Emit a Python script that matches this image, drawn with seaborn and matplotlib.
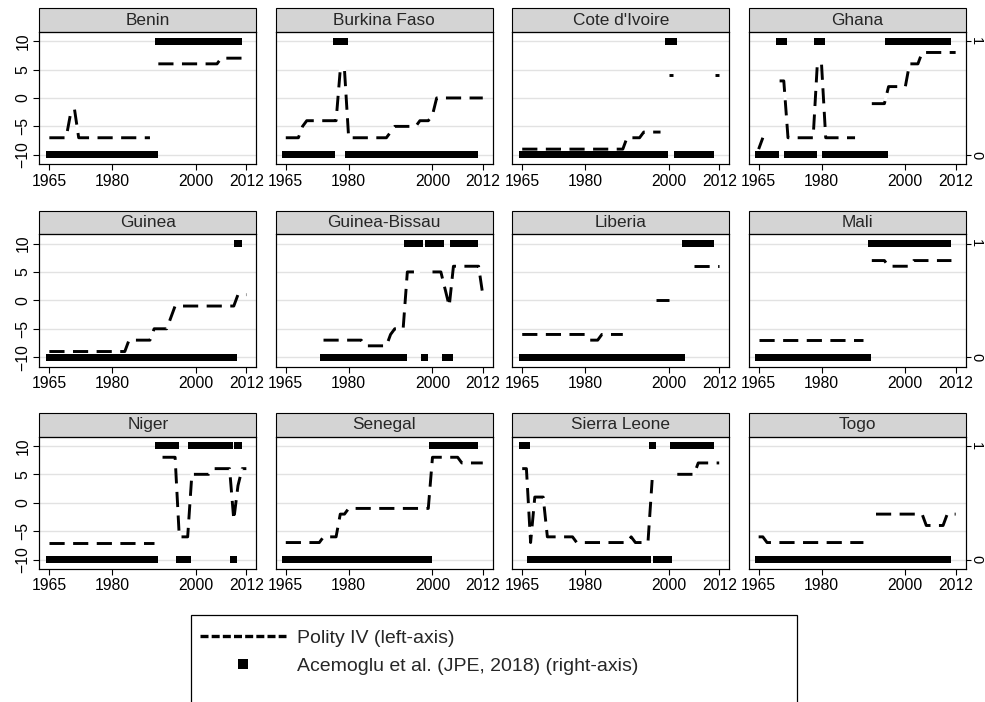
import numpy as np
import pandas as pd
import matplotlib
matplotlib.use("Agg")
import matplotlib.pyplot as plt
import seaborn as sns
from matplotlib.lines import Line2D
from matplotlib.patches import Rectangle

N = np.nan
years = list(range(1965, 2013))
countries = ['Benin', 'Burkina Faso', "Cote d'Ivoire", 'Ghana',
             'Guinea', 'Guinea-Bissau', 'Liberia', 'Mali',
             'Niger', 'Senegal', 'Sierra Leone', 'Togo']

# polity IV score, 1965-2012 (rows of ten years)
benin_polity = [-7, -7, -7, -7, -7, -3, -2, -7, -7, -7,
                -7, -7, -7, -7, -7, -7, -7, -7, -7, -7,
                -7, -7, -7, -7, -7, N, 6, 6, 6, 6,
                6, 6, 6, 6, 6, 6, 6, 6, 6, 6,
                6, 7, 7, 7, 7, 7, 7, 7]
burkina_polity = [-7, -7, -7, -7, -5, -4, -4, -4, -4, -4,
                  -4, -4, -4, 5, 5, -7, -7, -7, -7, -7,
                  -7, -7, -7, -7, -7, -6, -5, -5, -5, -5,
                  -5, -5, -4, -4, -4, -3, 0, 0, 0, 0,
                  0, 0, 0, 0, 0, 0, 0, 0]
civ_polity = [-9, -9, -9, -9, -9, -9, -9, -9, -9, -9,
              -9, -9, -9, -9, -9, -9, -9, -9, -9, -9,
              -9, -9, -9, -9, -9, -7, -7, -7, -7, -6,
              -6, -6, -6, -6, N, 4, 4, N, N, N,
              N, N, N, N, N, N, 4, 4]
ghana_polity = [-9, -7, N, N, N, 3, 3, -7, -7, -7,
                -7, -7, -7, -7, 6, 6, -7, -7, -7, -7,
                -7, -7, -7, -7, N, N, N, -1, -1, -1,
                -1, 2, 2, 2, 2, 2, 6, 6, 6, 8,
                8, 8, 8, 8, 8, 8, 8, 8]
guinea_polity = [-9, -9, -9, -9, -9, -9, -9, -9, -9, -9,
                 -9, -9, -9, -9, -9, -9, -9, -9, -9, -7,
                 -7, -7, -7, -7, -7, -5, -5, -5, -5, -3,
                 -1, -1, -1, -1, -1, -1, -1, -1, -1, -1,
                 -1, -1, -1, -1, -1, 1, 1, 1]
gbissau_polity = [N, N, N, N, N, N, N, N, N, -7,
                  -7, -7, -7, -7, -7, -7, -7, -7, -7, -8,
                  -8, -8, -8, -8, -8, -6, -5, -5, -5, 5,
                  5, 5, 5, N, N, 5, 5, 5, 2, -1,
                  6, 6, 6, 6, 6, 6, 6, 1]
liberia_polity = [-6, -6, -6, -6, -6, -6, -6, -6, -6, -6,
                  -6, -6, -6, -6, -6, -6, -7, -7, -7, -6,
                  -6, -6, -6, -6, -6, N, N, N, N, N,
                  N, N, 0, 0, 0, 0, N, N, N, N,
                  N, 6, 6, 6, 6, 6, 6, 6]
mali_polity = [-7, -7, -7, -7, -7, -7, -7, -7, -7, -7,
               -7, -7, -7, -7, -7, -7, -7, -7, -7, -7,
               -7, -7, -7, -7, -7, -7, N, 7, 7, 7,
               7, 6, 6, 6, 6, 6, 6, 7, 7, 7,
               7, 7, 7, 7, 7, 7, 7, N]
niger_polity = [-7, -7, -7, -7, -7, -7, -7, -7, -7, -7,
                -7, -7, -7, -7, -7, -7, -7, -7, -7, -7,
                -7, -7, -7, -7, -7, -7, N, 8, 8, 8,
                8, -6, -6, -6, 5, 5, 5, 5, 5, 6,
                6, 6, 6, 6, -3, 3, 6, 6]
senegal_polity = [-7, -7, -7, -7, -7, -7, -7, -7, -7, -6,
                  -6, -6, -6, -2, -2, -1, -1, -1, -1, -1,
                  -1, -1, -1, -1, -1, -1, -1, -1, -1, -1,
                  -1, -1, -1, -1, -1, 8, 8, 8, 8, 8,
                  8, 8, 7, 7, 7, 7, 7, 7]
sierra_polity = [6, 6, -7, 1, 1, 1, -6, -6, -6, -6,
                 -6, -6, -6, -7, -7, -7, -7, -7, -7, -7,
                 -7, -7, -7, -7, -7, -7, -6, -7, -7, -7,
                 -7, 4, N, N, N, N, N, 5, 5, 5,
                 5, 5, 7, 7, 7, 7, 7, 7]
togo_polity = [-6, -6, -7, -7, -7, -7, -7, -7, -7, -7,
               -7, -7, -7, -7, -7, -7, -7, -7, -7, -7,
               -7, -7, -7, -7, -7, -7, N, N, -2, -2,
               -2, -2, -2, -2, -2, -2, -2, -2, -2, -2,
               -4, -4, -4, -4, -4, -2, -2, -2]

# Acemoglu et al. democracy dummy, 1965-2012
benin_dem = [0, 0, 0, 0, 0, 0, 0, 0, 0, 0,
             0, 0, 0, 0, 0, 0, 0, 0, 0, 0,
             0, 0, 0, 0, 0, 0, 1, 1, 1, 1,
             1, 1, 1, 1, 1, 1, 1, 1, 1, 1,
             1, 1, 1, 1, 1, 1, N, N]
burkina_dem = [0, 0, 0, 0, 0, 0, 0, 0, 0, 0,
               0, 0, 1, 1, 1, 0, 0, 0, 0, 0,
               0, 0, 0, 0, 0, 0, 0, 0, 0, 0,
               0, 0, 0, 0, 0, 0, 0, 0, 0, 0,
               0, 0, 0, 0, 0, 0, N, N]
civ_dem = [0, 0, 0, 0, 0, 0, 0, 0, 0, 0,
           0, 0, 0, 0, 0, 0, 0, 0, 0, 0,
           0, 0, 0, 0, 0, 0, 0, 0, 0, 0,
           0, 0, 0, 0, 0, 1, 1, 0, 0, 0,
           0, 0, 0, 0, 0, 0, N, N]
ghana_dem = [0, 0, 0, 0, 0, 1, 1, 0, 0, 0,
             0, 0, 0, 0, 1, 1, 0, 0, 0, 0,
             0, 0, 0, 0, 0, 0, 0, 0, 0, 0,
             0, 1, 1, 1, 1, 1, 1, 1, 1, 1,
             1, 1, 1, 1, 1, 1, N, N]
guinea_dem = [0, 0, 0, 0, 0, 0, 0, 0, 0, 0,
              0, 0, 0, 0, 0, 0, 0, 0, 0, 0,
              0, 0, 0, 0, 0, 0, 0, 0, 0, 0,
              0, 0, 0, 0, 0, 0, 0, 0, 0, 0,
              0, 0, 0, 0, 0, 1, N, N]
gbissau_dem = [N, N, N, N, N, N, N, N, N, 0,
               0, 0, 0, 0, 0, 0, 0, 0, 0, 0,
               0, 0, 0, 0, 0, 0, 0, 0, 0, 1,
               1, 1, 1, 0, 1, 1, 1, 1, 0, 0,
               1, 1, 1, 1, 1, 1, N, N]
liberia_dem = [0, 0, 0, 0, 0, 0, 0, 0, 0, 0,
               0, 0, 0, 0, 0, 0, 0, 0, 0, 0,
               0, 0, 0, 0, 0, 0, 0, 0, 0, 0,
               0, 0, 0, 0, 0, 0, 0, 0, 0, 1,
               1, 1, 1, 1, 1, 1, N, N]
mali_dem = [0, 0, 0, 0, 0, 0, 0, 0, 0, 0,
            0, 0, 0, 0, 0, 0, 0, 0, 0, 0,
            0, 0, 0, 0, 0, 0, 0, 1, 1, 1,
            1, 1, 1, 1, 1, 1, 1, 1, 1, 1,
            1, 1, 1, 1, 1, 1, N, N]
niger_dem = [0, 0, 0, 0, 0, 0, 0, 0, 0, 0,
             0, 0, 0, 0, 0, 0, 0, 0, 0, 0,
             0, 0, 0, 0, 0, 0, 1, 1, 1, 1,
             1, 0, 0, 0, 1, 1, 1, 1, 1, 1,
             1, 1, 1, 1, 0, 1, N, N]
senegal_dem = [0, 0, 0, 0, 0, 0, 0, 0, 0, 0,
               0, 0, 0, 0, 0, 0, 0, 0, 0, 0,
               0, 0, 0, 0, 0, 0, 0, 0, 0, 0,
               0, 0, 0, 0, 0, 1, 1, 1, 1, 1,
               1, 1, 1, 1, 1, 1, N, N]
sierra_dem = [1, 1, 0, 0, 0, 0, 0, 0, 0, 0,
              0, 0, 0, 0, 0, 0, 0, 0, 0, 0,
              0, 0, 0, 0, 0, 0, 0, 0, 0, 0,
              0, 1, 0, 0, 0, 0, 1, 1, 1, 1,
              1, 1, 1, 1, 1, 1, N, N]
togo_dem = [0, 0, 0, 0, 0, 0, 0, 0, 0, 0,
            0, 0, 0, 0, 0, 0, 0, 0, 0, 0,
            0, 0, 0, 0, 0, 0, 0, 0, 0, 0,
            0, 0, 0, 0, 0, 0, 0, 0, 0, 0,
            0, 0, 0, 0, 0, 0, N, N]

polity = dict(zip(countries, [benin_polity, burkina_polity, civ_polity, ghana_polity,
                              guinea_polity, gbissau_polity, liberia_polity, mali_polity,
                              niger_polity, senegal_polity, sierra_polity, togo_polity]))
dem = dict(zip(countries, [benin_dem, burkina_dem, civ_dem, ghana_dem,
                           guinea_dem, gbissau_dem, liberia_dem, mali_dem,
                           niger_dem, senegal_dem, sierra_dem, togo_dem]))

rows = []
for c in countries:
    seg, prev_nan = 0, True
    for y, p, d in zip(years, polity[c], dem[c]):
        if not np.isnan(p) and prev_nan:
            seg += 1
        prev_nan = np.isnan(p)
        rows.append(dict(country=c, year=y, polity=p, dem=d, seg=seg))
df = pd.DataFrame(rows)

sns.set_theme(style='white', rc={'axes.edgecolor': 'black', 'axes.linewidth': 0.8,
                                 'xtick.color': 'black', 'ytick.color': 'black'})
plt.rcParams['font.family'] = ['Liberation Sans', 'DejaVu Sans']

fig, axes = plt.subplots(3, 4, figsize=(9.85, 7.02), dpi=100)
fig.subplots_adjust(left=0.0399, right=0.9804, top=0.9548, bottom=0.1895,
                    wspace=0.089, hspace=0.528)

strip_h = 23.4 / 132.3
for i, c in enumerate(countries):
    ax = axes.flat[i]
    r, k = divmod(i, 4)
    sub = df[df.country == c]

    ax.yaxis.grid(True, color='#e2e2e2', lw=1.0)
    ax.xaxis.grid(False)
    ax.set_axisbelow(True)
    sns.lineplot(data=sub, x='year', y='polity', units='seg', estimator=None,
                 color='black', linewidth=2.1, ax=ax, legend=False)
    for ln in ax.lines:
        ln.set_dashes([5.2, 2.9])
        ln.set_gapcolor('white')
        ln.set_dash_capstyle('butt')

    tw = ax.twinx()
    sns.scatterplot(data=sub, x='year', y='dem', marker='s', s=26, color='black',
                    edgecolor='none', linewidth=0, ax=tw, legend=False)
    tw.set_ylim(-0.0825, 1.0825)

    ax.set_xlim(1962.6, 2014.4)
    ax.set_ylim(-11.65, 11.65)
    ax.set_xticks([1965, 1980, 2000, 2012])
    ax.set_yticks([-10, -5, 0, 5, 10])
    for a in (ax, tw):
        a.set_xlabel('')
        a.set_ylabel('')
    ax.tick_params(axis='x', bottom=True, length=4.3, width=0.8, pad=2.5, labelsize=11.3)
    if k == 0:
        ax.tick_params(axis='y', left=True, labelleft=True, length=4.3, width=0.8,
                       pad=2, labelsize=11.3)
        for lab in ax.get_yticklabels():
            lab.set_rotation(90)
            lab.set_va('center')
    else:
        ax.tick_params(axis='y', left=False, labelleft=False)
    if k == 3:
        tw.set_yticks([0, 1])
        tw.tick_params(axis='y', right=True, labelright=True, length=3.6, width=0.8,
                       pad=-1, labelsize=10.5)
        for lab in tw.get_yticklabels():
            lab.set_rotation(-90)
            lab.set_va('center')
    else:
        tw.set_yticks([])
        tw.tick_params(axis='y', right=False, labelright=False)

    ax.add_patch(Rectangle((0, 1), 1, strip_h, transform=ax.transAxes, clip_on=False,
                           facecolor='#d4d4d4', edgecolor='black', lw=0.8))
    ax.text(0.5, 1 + strip_h / 2, c, transform=ax.transAxes, ha='center', va='center',
            fontsize=12.4)

# legend
h1 = Line2D([], [], color='black', lw=2.4, dashes=(2.4, 0.95))
h2 = Line2D([], [], color='black', ls='none', marker='s', markersize=7, markeredgewidth=0)
fig.legend([h1, h2], ['Polity IV (left-axis)', 'Acemoglu et al. (JPE, 2018) (right-axis)'],
           loc='upper left', bbox_to_anchor=(200 / 985, 1 - 629 / 702), frameon=False,
           fontsize=14, handlelength=4.4, handletextpad=0.6, labelspacing=0.56,
           borderpad=0, borderaxespad=0)
fig.add_artist(Rectangle((191 / 985, -0.02), (797 - 191) / 985, 0.02 + 1 - 615 / 702,
                         transform=fig.transFigure, fill=False, edgecolor='black', lw=0.9))

fig.savefig('out.png', dpi=100)
